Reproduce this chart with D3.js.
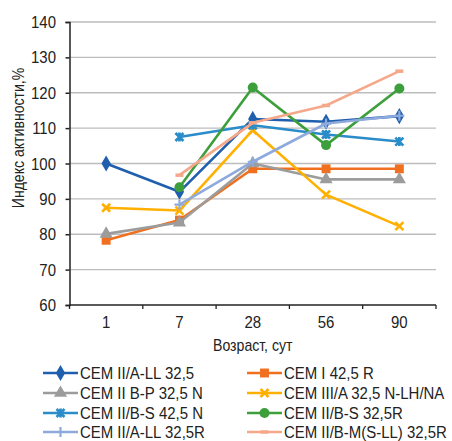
<!DOCTYPE html>
<html>
<head>
<meta charset="utf-8">
<script src="https://cdn.jsdelivr.net/npm/d3@7"></script>
<style>
  body { margin: 0; background: #fff; }
  text { font-family: "Liberation Sans", Arial, sans-serif; fill: #222; }
</style>
</head>
<body>
<div id="chart"></div>
<script>
// ---- data ----
var ages = ["1", "7", "28", "56", "90"];
var yTicks = [60, 70, 80, 90, 100, 110, 120, 130, 140];

var cemIIALL = [100, 92, 112.6, 111.8, 113.4];
var cemI425R = [78.3, 84, 98.5, 98.5, 98.5];
var cemIIBP = [80.1, 83.3, 100, 95.5, 95.5];
var cemIIIA = [87.5, 86.7, 109.4, 91.2, 82.3];
var cemIIBS425 = [null, 107.5, 110.8, 108.2, 106.2];
var cemIIBS325R = [null, 93.3, 121.5, 105.2, 121.2];
var cemIIALLR = [null, 88.4, 100.5, 111.3, 113.5];
var cemIIBM = [null, 96.7, 111.5, 116.4, 126.1];

var seriesNames = ["CEM II/A-LL 32,5", "CEM I 42,5 R", "CEM II B-P 32,5 N", "CEM III/A 32,5 N-LH/NA",
  "CEM II/B-S 42,5 N", "CEM II/B-S 32,5R", "CEM II/A-LL 32,5R", "CEM II/B-M(S-LL) 32,5R"];
var seriesValues = [cemIIALL, cemI425R, cemIIBP, cemIIIA, cemIIBS425, cemIIBS325R, cemIIALLR, cemIIBM];
var seriesColors = ["#1f5fae", "#f07020", "#9c9c9c", "#ffb000", "#2a8cc8", "#3c9f3c", "#8eaadc", "#f5a88a"];
var seriesMarkers = ["diamond", "square", "triangle", "x", "star", "circle", "plus", "dash"];

var width = 452, height = 441;
var margin = { top: 22, right: 16, bottom: 136, left: 69.5 };
var narrow = 0.88; // condensed look of the original font

var svg = d3.select("#chart").append("svg")
  .attr("width", width)
  .attr("height", height);

var x = d3.scaleBand().domain(ages).range([margin.left, width - margin.right]);
var y = d3.scaleLinear().domain([60, 140]).range([height - margin.bottom, margin.top]);
var cx = function (i) { return x(ages[i]) + x.bandwidth() / 2; };

// condensed text helper
function label(parent, tx, ty, str, size, anchor, rot, sx) {
  var g = parent.append("g")
    .attr("transform", "translate(" + tx + "," + ty + ")" + (rot ? " rotate(" + rot + ")" : "") + " scale(" + (sx || narrow) + ",1)");
  return g.append("text")
    .attr("text-anchor", anchor || "start")
    .attr("dy", "0.36em")
    .attr("font-size", size)
    .text(str);
}

// gridlines
svg.append("g")
  .selectAll("line")
  .data(yTicks.slice(1))
  .join("line")
  .attr("x1", margin.left).attr("x2", width - margin.right)
  .attr("y1", d => y(d)).attr("y2", d => y(d))
  .attr("stroke", "#bdbdbd").attr("stroke-width", 1.3);

// y axis
svg.append("g")
  .attr("transform", "translate(" + margin.left + ",0)")
  .call(d3.axisLeft(y).tickValues(yTicks).tickSize(4).tickFormat(""))
  .call(g => g.selectAll("line, path").attr("stroke", "#222").attr("stroke-width", 1.5));
var yl = svg.append("g");
yTicks.forEach(function (t) { label(yl, 56, y(t), t, 17, "end"); });

// x axis (ticks between categories)
var xg = svg.append("g").attr("transform", "translate(0," + y(60) + ")");
xg.append("line")
  .attr("x1", margin.left).attr("x2", width - margin.right)
  .attr("stroke", "#222").attr("stroke-width", 1.5);
xg.selectAll(".tk")
  .data(ages)
  .join("line")
  .attr("x1", d => x(d) + x.bandwidth()).attr("x2", d => x(d) + x.bandwidth())
  .attr("y1", 0).attr("y2", 4)
  .attr("stroke", "#222").attr("stroke-width", 1.3);
xg.append("line").attr("x1", margin.left).attr("x2", margin.left).attr("y1", 0).attr("y2", 4)
  .attr("stroke", "#222").attr("stroke-width", 1.3);
ages.forEach(function (a) { label(xg, x(a) + x.bandwidth() / 2, 17, a, 17, "middle"); });

// axis titles
label(svg, (margin.left + width - margin.right) / 2, 345, "Возраст, сут", 16, "middle");
label(svg, 18, 138, "Индекс активности,%", 16, "middle", -90);

// markers
function drawMarker(g, type, color, px, py) {
  var tr = "translate(" + px + "," + py + ")";
  if (type === "diamond") {
    g.append("path").attr("d", d3.symbol(d3.symbolDiamond, 75)()).attr("transform", tr).attr("fill", color);
  } else if (type === "square") {
    g.append("path").attr("d", d3.symbol(d3.symbolSquare, 80)()).attr("transform", tr).attr("fill", color);
  } else if (type === "triangle") {
    g.append("path").attr("d", d3.symbol(d3.symbolTriangle, 75)()).attr("transform", tr).attr("fill", color);
  } else if (type === "circle") {
    g.append("circle").attr("cx", px).attr("cy", py).attr("r", 5).attr("fill", color);
  } else if (type === "x") {
    g.append("path").attr("d", "M-4,-4L4,4M-4,4L4,-4").attr("transform", tr)
      .attr("stroke", color).attr("stroke-width", 2.6).attr("fill", "none");
  } else if (type === "star") {
    g.append("path").attr("d", "M-4,-4L4,4M-4,4L4,-4M0,-4.5L0,4.5").attr("transform", tr)
      .attr("stroke", color).attr("stroke-width", 2.6).attr("fill", "none");
  } else if (type === "plus") {
    g.append("path").attr("d", "M-5,0L5,0M0,-5L0,5").attr("transform", tr)
      .attr("stroke", color).attr("stroke-width", 2.2).attr("fill", "none");
  } else if (type === "dash") {
    g.append("path").attr("d", "M-4,0L4,0").attr("transform", tr)
      .attr("stroke", color).attr("stroke-width", 3.5).attr("fill", "none");
  }
}

// series
var line = d3.line()
  .defined(d => d.v != null)
  .x(d => cx(d.i))
  .y(d => y(d.v));

seriesValues.forEach(function (vals, s) {
  var pts = vals.map((v, i) => ({ v: v, i: i }));
  var g = svg.append("g");
  g.append("path")
    .datum(pts)
    .attr("d", line)
    .attr("fill", "none")
    .attr("stroke", seriesColors[s])
    .attr("stroke-width", 2.6)
    .attr("stroke-linejoin", "round");
  pts.filter(d => d.v != null).forEach(function (d) {
    drawMarker(g, seriesMarkers[s], seriesColors[s], cx(d.i), y(d.v));
  });
});

// legend
var legCols = [43, 247];
var legRows = [373, 393, 413, 432];
seriesNames.forEach(function (name, s) {
  var lx = legCols[s % 2], ly = legRows[Math.floor(s / 2)];
  var g = svg.append("g");
  g.append("line")
    .attr("x1", lx).attr("x2", lx + 35)
    .attr("y1", ly).attr("y2", ly)
    .attr("stroke", seriesColors[s]).attr("stroke-width", 2.6);
  drawMarker(g, seriesMarkers[s], seriesColors[s], lx + 17.5, ly);
  label(g, lx + 37, ly, name, 17, "start");
});
</script>
</body>
</html>
